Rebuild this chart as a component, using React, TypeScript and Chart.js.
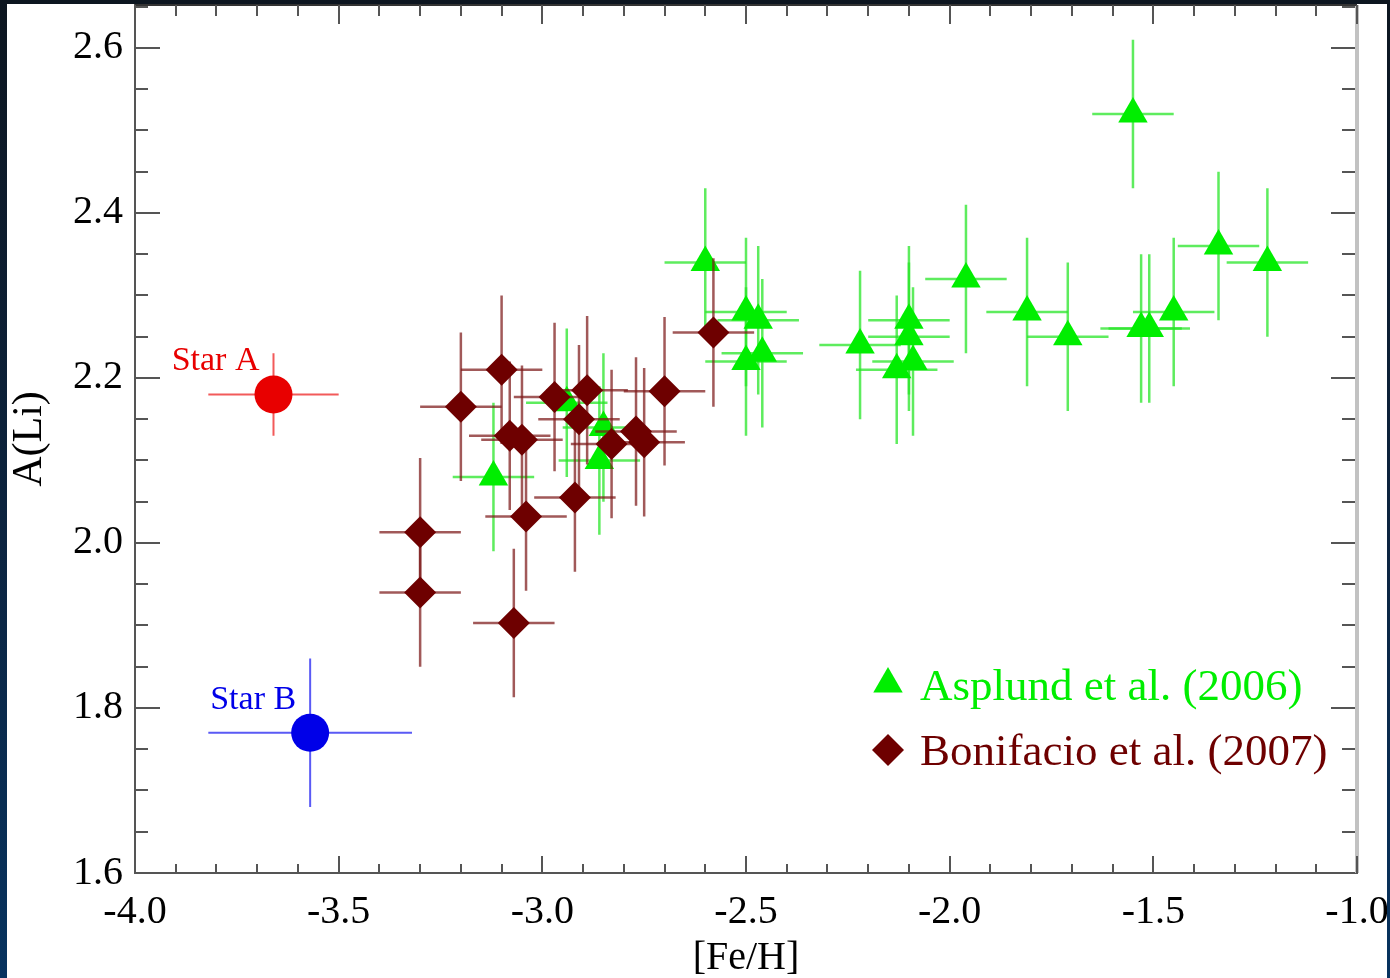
import React, { useEffect, useRef } from 'react';
import { Chart, registerables } from 'chart.js';

Chart.register(...registerables);

// ---------- data ----------
const asplundFeH = [-3.12, -2.94, -2.85, -2.86, -2.60, -2.50, -2.47, -2.50, -2.46, -2.22, -2.10, -2.10, -2.09, -2.13, -1.96, -1.81, -1.71, -1.55, -1.53, -1.51, -1.45, -1.34, -1.22];
const asplundALi = [2.08, 2.17, 2.14, 2.10, 2.34, 2.28, 2.27, 2.22, 2.23, 2.24, 2.27, 2.25, 2.22, 2.21, 2.32, 2.28, 2.25, 2.52, 2.26, 2.26, 2.28, 2.36, 2.34];
const asplundFeHErr = [0.10, 0.10, 0.10, 0.10, 0.10, 0.10, 0.10, 0.10, 0.10, 0.10, 0.10, 0.10, 0.10, 0.10, 0.10, 0.10, 0.10, 0.10, 0.10, 0.10, 0.10, 0.10, 0.10];
const asplundALiErr = [0.09, 0.09, 0.09, 0.09, 0.09, 0.09, 0.09, 0.09, 0.09, 0.09, 0.09, 0.09, 0.09, 0.09, 0.09, 0.09, 0.09, 0.09, 0.09, 0.09, 0.09, 0.09, 0.09];

const bonifacioFeH = [-3.10, -3.20, -3.08, -3.05, -2.97, -2.89, -2.91, -2.83, -2.77, -2.75, -2.70, -2.58, -2.92, -3.30, -3.30, -3.07, -3.04];
const bonifacioALi = [2.21, 2.165, 2.13, 2.125, 2.177, 2.185, 2.15, 2.12, 2.135, 2.122, 2.184, 2.255, 2.055, 2.013, 1.94, 1.903, 2.032];
const bonifacioFeHErr = [0.10, 0.10, 0.10, 0.10, 0.10, 0.10, 0.10, 0.10, 0.10, 0.10, 0.10, 0.10, 0.10, 0.10, 0.10, 0.10, 0.10];
const bonifacioALiErr = [0.09, 0.09, 0.09, 0.09, 0.09, 0.09, 0.09, 0.09, 0.09, 0.09, 0.09, 0.09, 0.09, 0.09, 0.09, 0.09, 0.09];

const starNames = ['Star A', 'Star B'];
const starFeH = [-3.66, -3.57];
const starALi = [2.18, 1.77];
const starFeHErr = [0.16, 0.25];
const starALiErr = [0.05, 0.09];

const xMajorTicks = [-4.0, -3.5, -3.0, -2.5, -2.0, -1.5, -1.0];
const yMajorTicks = [1.6, 1.8, 2.0, 2.2, 2.4, 2.6];
const X_MIN = -4.0;
const X_MAX = -1.0;
const Y_MIN = 1.6;
const Y_MAX = 2.652;
const X_MINOR_STEP = 0.1;
const Y_MINOR_STEP = 0.05;

const SERIF = "'Liberation Serif', 'Times New Roman', serif";

const GREEN = '#00ee00';
const MAROON = '#6e0000';
const RED = '#e80000';
const BLUE = '#0000e8';

const toPoints = (xs: number[], ys: number[]) => xs.map((x, i) => ({ x, y: ys[i] }));

// ---------- plugins ----------
const errorBarPlugin = {
  id: 'errorBars',
  beforeDatasetDraw(chart: any, args: any) {
    const ds = chart.data.datasets[args.index];
    if (!ds.errX) return;
    const { ctx } = chart;
    const xs = chart.scales.x;
    const ys = chart.scales.y;
    ctx.save();
    ctx.lineWidth = ds.errWidth;
    ctx.lineCap = 'butt';
    ds.data.forEach((p: any, i: number) => {
      const col = Array.isArray(ds.errColor) ? ds.errColor[i] : ds.errColor;
      ctx.strokeStyle = col;
      const px = xs.getPixelForValue(p.x);
      const py = ys.getPixelForValue(p.y);
      ctx.beginPath();
      ctx.moveTo(xs.getPixelForValue(p.x - ds.errX[i]), py);
      ctx.lineTo(xs.getPixelForValue(p.x + ds.errX[i]), py);
      ctx.moveTo(px, ys.getPixelForValue(p.y - ds.errY[i]));
      ctx.lineTo(px, ys.getPixelForValue(p.y + ds.errY[i]));
      ctx.stroke();
    });
    ctx.restore();
  },
};

const frameTicksPlugin = {
  id: 'frameTicks',
  afterDraw(chart: any) {
    const { ctx, chartArea } = chart;
    const { left, right, top, bottom } = chartArea;
    const xs = chart.scales.x;
    const ys = chart.scales.y;
    const seg = (x0: number, y0: number, x1: number, y1: number) => {
      ctx.beginPath();
      ctx.moveTo(x0, y0);
      ctx.lineTo(x1, y1);
      ctx.stroke();
    };
    ctx.save();
    // right axis (light grey)
    ctx.strokeStyle = '#c2c2c2';
    ctx.lineWidth = 4;
    seg(right, top, right, bottom);
    // top axis
    ctx.strokeStyle = '#333';
    ctx.lineWidth = 2;
    seg(left, top, right, top);

    ctx.strokeStyle = '#555';
    ctx.lineWidth = 2;
    // x ticks
    const nx = Math.round((X_MAX - X_MIN) / X_MINOR_STEP);
    for (let i = 0; i <= nx; i++) {
      const v = X_MIN + i * X_MINOR_STEP;
      const px = Math.round(xs.getPixelForValue(v));
      const major = i % 5 === 0;
      seg(px, bottom, px, bottom - (major ? 17 : 9));
      seg(px, top, px, top + (major ? 19 : 11));
    }
    // y ticks
    const ny = Math.floor((Y_MAX - Y_MIN) / Y_MINOR_STEP + 1e-6);
    for (let i = 0; i <= ny; i++) {
      const v = Y_MIN + i * Y_MINOR_STEP;
      const py = Math.round(ys.getPixelForValue(v));
      const major = i % 4 === 0;
      seg(left, py, left + (major ? 25 : 13), py);
      seg(right - 2, py, right - 2 - (major ? 24 : 13), py);
    }
    ctx.restore();
  },
};

const annotationsPlugin = {
  id: 'annotations',
  afterDatasetsDraw(chart: any) {
    const { ctx, chartArea } = chart;
    const xs = chart.scales.x;
    const ys = chart.scales.y;
    ctx.save();
    // star labels
    const starColors = [RED, BLUE];
    ctx.font = `34px ${SERIF}`;
    ctx.textAlign = 'right';
    ctx.textBaseline = 'alphabetic';
    starNames.forEach((name, i) => {
      const px = xs.getPixelForValue(starFeH[i]);
      const py = ys.getPixelForValue(starALi[i]);
      ctx.fillStyle = starColors[i];
      ctx.fillText(name, px - 14, py - 24);
    });

    // legend
    const lx = chartArea.left + 753;
    const tx = chartArea.left + 785;
    const items = [
      { ds: chart.data.datasets[1], cy: chartArea.bottom - 189, base: chartArea.bottom - 173 },
      { ds: chart.data.datasets[0], cy: chartArea.bottom - 123, base: chartArea.bottom - 108 },
    ];
    ctx.textAlign = 'left';
    ctx.font = `45px ${SERIF}`;
    items.forEach(({ ds, cy, base }) => {
      const r = ds.pointRadius;
      ctx.fillStyle = ds.backgroundColor;
      ctx.beginPath();
      if (ds.pointStyle === 'triangle') {
        for (let k = 0; k < 3; k++) {
          const a = (k * 2 * Math.PI) / 3;
          const xx = lx + Math.sin(a) * r;
          const yy = cy - Math.cos(a) * r;
          if (k === 0) ctx.moveTo(xx, yy);
          else ctx.lineTo(xx, yy);
        }
      } else {
        ctx.moveTo(lx - r, cy);
        ctx.lineTo(lx, cy - r);
        ctx.lineTo(lx + r, cy);
        ctx.lineTo(lx, cy + r);
      }
      ctx.closePath();
      ctx.fill();
      ctx.fillStyle = ds.backgroundColor;
      ctx.fillText(ds.label, tx, base);
    });
    ctx.restore();
  },
};

export default function App() {
  const ref = useRef<HTMLCanvasElement>(null);

  useEffect(() => {
    const canvas = ref.current;
    if (!canvas) return;
    const chart = new Chart(canvas, {
      type: 'scatter',
      data: {
        datasets: [
          {
            label: 'Bonifacio et al. (2007)',
            data: toPoints(bonifacioFeH, bonifacioALi),
            pointStyle: 'rectRot',
            pointRadius: 16,
            backgroundColor: MAROON,
            borderWidth: 0,
            order: 1,
            errX: bonifacioFeHErr,
            errY: bonifacioALiErr,
            errColor: 'rgba(125,25,25,0.72)',
            errWidth: 2.5,
          } as any,
          {
            label: 'Asplund et al. (2006)',
            data: toPoints(asplundFeH, asplundALi),
            pointStyle: 'triangle',
            pointRadius: 17,
            backgroundColor: GREEN,
            borderWidth: 0,
            order: 2,
            errX: asplundFeHErr,
            errY: asplundALiErr,
            errColor: 'rgba(40,230,40,0.75)',
            errWidth: 2.5,
          } as any,
          {
            label: 'Stars',
            data: toPoints(starFeH, starALi),
            pointStyle: 'circle',
            pointRadius: 19,
            backgroundColor: [RED, BLUE],
            borderWidth: 0,
            order: 0,
            errX: starFeHErr,
            errY: starALiErr,
            errColor: ['#f25a5a', '#5a5af5'],
            errWidth: 2,
          } as any,
        ],
      },
      options: {
        responsive: false,
        animation: false,
        events: [],
        layout: { autoPadding: false, padding: { top: 1, right: 30, left: 0, bottom: 0 } },
        plugins: {
          legend: { display: false },
          tooltip: { enabled: false },
        },
        scales: {
          x: {
            type: 'linear',
            min: X_MIN,
            max: X_MAX,
            afterBuildTicks: (s: any) => {
              s.ticks = xMajorTicks.map((v) => ({ value: v }));
            },
            afterFit: (s: any) => {
              s.height = 105;
              s.paddingLeft = 0;
              s.paddingRight = 0;
            },
            grid: { display: true, drawOnChartArea: false, drawTicks: false },
            border: { display: true, color: '#555', width: 2 },
            ticks: {
              font: { family: SERIF, size: 40 },
              color: '#000',
              padding: 15,
              maxRotation: 0,
              autoSkip: false,
              callback: (v: any) => Number(v).toFixed(1),
            },
            title: {
              display: true,
              text: '[Fe/H]',
              color: '#000',
              font: { family: SERIF, size: 40, lineHeight: 1 },
              padding: { top: 0, bottom: 0 },
            },
          },
          y: {
            type: 'linear',
            min: Y_MIN,
            max: Y_MAX,
            afterBuildTicks: (s: any) => {
              s.ticks = yMajorTicks.map((v) => ({ value: v }));
            },
            afterFit: (s: any) => {
              s.width = 128;
              s.paddingTop = 0;
              s.paddingBottom = 0;
            },
            grid: { display: true, drawOnChartArea: false, drawTicks: false },
            border: { display: true, color: '#555', width: 2 },
            ticks: {
              font: { family: SERIF, size: 40 },
              color: '#000',
              padding: 12,
              autoSkip: false,
              callback: (v: any) => Number(v).toFixed(1),
            },
            title: {
              display: true,
              text: 'A(Li)',
              color: '#000',
              font: { family: SERIF, size: 42, lineHeight: 1 },
              padding: { top: 2, bottom: 0 },
            },
          },
        },
      },
      plugins: [errorBarPlugin, frameTicksPlugin, annotationsPlugin],
    } as any);
    return () => chart.destroy();
  }, []);

  return (
    <div
      style={{
        position: 'fixed',
        left: 0,
        top: 0,
        width: 1390,
        height: 978,
        overflow: 'hidden',
        background: 'linear-gradient(180deg, #0d1620 0%, #0c2440 55%, #07335f 100%)',
      }}
    >
      <div style={{ position: 'absolute', left: 7, top: 4, width: 1380, height: 974, background: '#ffffff' }}>
        <canvas ref={ref} width={1380} height={974} style={{ display: 'block', width: 1380, height: 974 }} />
      </div>
    </div>
  );
}
